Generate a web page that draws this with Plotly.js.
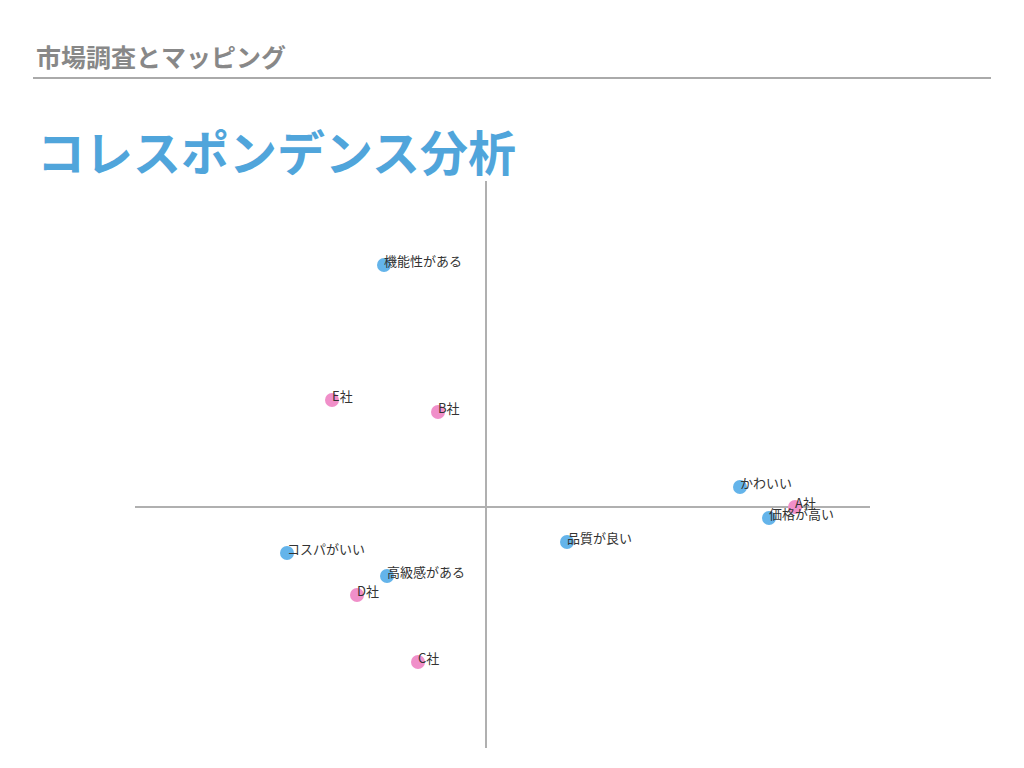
<!DOCTYPE html>
<html>
<head>
<meta charset="utf-8">
<script src="https://cdn.plot.ly/plotly-3.0.1.min.js"></script>
<style>
html,body{margin:0;padding:0;background:#fff;}
#chart{width:1024px;height:768px;}
</style>
</head>
<body>
<div id="chart"></div>
<script>
// Attribute (column) coordinates
const attrLabels = ["機能性がある", "かわいい", "価格が高い", "品質が良い", "コスパがいい", "高級感がある"];
const attrX = [-1.02, 2.54, 2.83, 0.81, -1.99, -0.99];
const attrY = [2.42, 0.20, -0.11, -0.35, -0.46, -0.69];

// Company (row) coordinates
const companyLabels = ["E社", "B社", "A社", "D社", "C社"];
const companyX = [-1.54, -0.48, 3.09, -1.29, -0.68];
const companyY = [1.07, 0.95, 0.00, -0.88, -1.55];

const headerText = "市場調査とマッピング";
const titleText = "コレスポンデンス分析";

const FONT = "'Noto Sans CJK JP', 'Noto Sans', sans-serif";

const traces = [
  {
    x: attrX, y: attrY, mode: "markers", type: "scatter",
    marker: {size: 14, color: "#64b4ea"},
    hoverinfo: "skip"
  },
  {
    x: companyX, y: companyY, mode: "markers", type: "scatter",
    marker: {size: 14, color: "#f08fc9"},
    hoverinfo: "skip"
  }
];

const labelAnns = [];
function addLabels(xs, ys, labels) {
  for (let i = 0; i < labels.length; i++) {
    labelAnns.push({
      x: xs[i], y: ys[i], xref: "x", yref: "y",
      text: labels[i], showarrow: false,
      xanchor: "left", yanchor: "middle",
      xshift: -2, yshift: 5,
      font: {family: FONT, size: 13, color: "#333333"}
    });
  }
}
addLabels(attrX, attrY, attrLabels);
addLabels(companyX, companyY, companyLabels);

labelAnns.push({
  xref: "paper", yref: "paper",
  x: (34 - 135) / 735, y: (748 - 56) / 567,
  xanchor: "left", yanchor: "middle",
  text: "<b>" + headerText + "</b>", showarrow: false,
  font: {family: FONT, size: 25, color: "#888888"}
});
labelAnns.push({
  xref: "paper", yref: "paper",
  x: (35 - 135) / 735, y: (748 - 150) / 567,
  xanchor: "left", yanchor: "middle",
  text: "<b>" + titleText + "</b>", showarrow: false,
  font: {family: FONT, size: 48, color: "#50a5db"}
});

const layout = {
  width: 1024, height: 768,
  paper_bgcolor: "#ffffff", plot_bgcolor: "#ffffff",
  margin: {l: 135, r: 154, t: 181, b: 20},
  showlegend: false,
  xaxis: {
    range: [-3.51, 3.84], showgrid: false, showticklabels: false, ticks: "",
    zeroline: true, zerolinecolor: "#b0b0b0", zerolinewidth: 1.5, showline: false, fixedrange: true
  },
  yaxis: {
    range: [-2.41, 3.26], showgrid: false, showticklabels: false, ticks: "",
    zeroline: true, zerolinecolor: "#b0b0b0", zerolinewidth: 1.5, showline: false, fixedrange: true
  },
  shapes: [{
    type: "line", xref: "paper", yref: "paper",
    x0: (33 - 135) / 735, x1: (991 - 135) / 735,
    y0: (748 - 78) / 567, y1: (748 - 78) / 567,
    line: {color: "#aaaaaa", width: 2}
  }],
  annotations: labelAnns
};

Plotly.newPlot("chart", traces, layout, {displayModeBar: false, staticPlot: true});
</script>
</body>
</html>
